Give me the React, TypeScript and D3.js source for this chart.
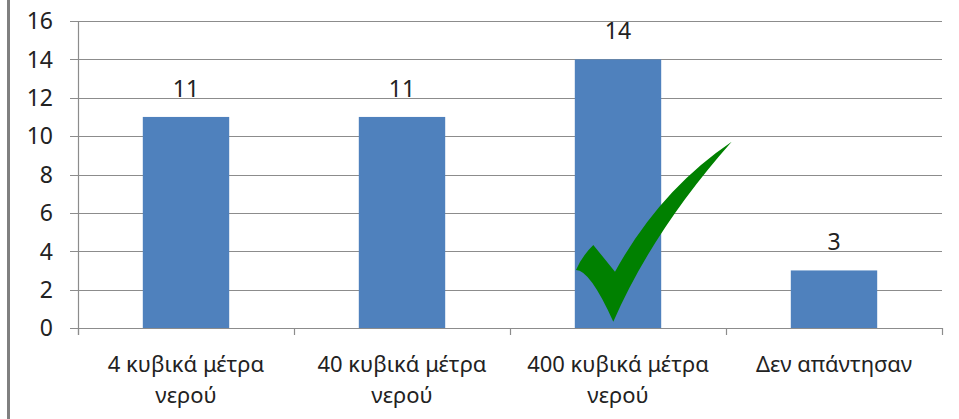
import React from "react";
import * as d3 from "d3";

const categories: string[][] = [
  ["4 κυβικά μέτρα", "νερού"],
  ["40 κυβικά μέτρα", "νερού"],
  ["400 κυβικά μέτρα", "νερού"],
  ["Δεν απάντησαν"],
];
const values: number[] = [11, 11, 14, 3];
const yTicks: number[] = [0, 2, 4, 6, 8, 10, 12, 14, 16];

const W = 959;
const H = 419;
const FONT = "'Noto Sans', sans-serif";

export default function App() {
  const left = 78, right = 942, top = 21, bottom = 328;
  const ids = categories.map((_, i) => String(i));
  const x = d3.scaleBand<string>().domain(ids).range([left, right]).paddingInner(0.6).paddingOuter(0.3);
  const y = d3.scaleLinear().domain([0, 16]).range([bottom, top]);
  const step = x.step();
  const grid = "#8c8c8c";

  // check mark decoration anchored at third category, relative offsets
  const cx = (x("2") as number) + x.bandwidth() / 2;
  const cy = y(0);
  const p = (dx: number, dy: number) => `${cx + dx},${cy + dy}`;
  const check =
    `M${p(-4.7, -6.3)} Q${p(35.3, -98)} ${p(113.7, -186.3)} ` +
    `Q${p(42, -138)} ${p(-3, -56.3)} L${p(-24.7, -83)} ` +
    `Q${p(-36, -72)} ${p(-42, -58)} Q${p(-28, -58)} ${p(-4.7, -6.3)} Z`;

  return (
    <svg width={W} height={H} style={{ position: "absolute", left: 0, top: 0, background: "#fff" }} fontFamily={FONT}>
      <rect x={0} y={0} width={W} height={H} fill="#fff" />
      <line x1={8.5} x2={8.5} y1={0} y2={H} stroke="#808080" strokeWidth={3} />
      {yTicks.map((t) => (
        <g key={t}>
          <line x1={70} x2={right} y1={Math.round(y(t)) + 0.5} y2={Math.round(y(t)) + 0.5} stroke={grid} strokeWidth={1.2} />
          <text x={53} y={y(t)} dy="0.36em" textAnchor="end" fontSize={23} fill="#222">{t}</text>
        </g>
      ))}
      <line x1={left + 0.5} x2={left + 0.5} y1={top} y2={bottom + 7} stroke={grid} strokeWidth={1.2} />
      {d3.range(categories.length + 1).map((i) => (
        <line key={i} x1={left + i * step + 0.5} x2={left + i * step + 0.5} y1={bottom} y2={bottom + 7} stroke={grid} strokeWidth={1.2} />
      ))}
      {values.map((v, i) => (
        <g key={i}>
          <rect x={x(String(i))} y={y(v)} width={x.bandwidth()} height={y(0) - y(v)} fill="#4F81BD" />
          <text x={(x(String(i)) as number) + x.bandwidth() / 2} y={y(v) - 20} textAnchor="middle" fontSize={23} fill="#222">{v}</text>
        </g>
      ))}
      {categories.map((lines, i) => (
        <text key={i} x={(x(String(i)) as number) + x.bandwidth() / 2} textAnchor="middle" fontSize={22} fill="#222">
          {lines.map((l, j) => (
            <tspan key={j} x={(x(String(i)) as number) + x.bandwidth() / 2} y={372 + j * 31}>{l}</tspan>
          ))}
        </text>
      ))}
      <path d={check} fill="#008000" />
    </svg>
  );
}
